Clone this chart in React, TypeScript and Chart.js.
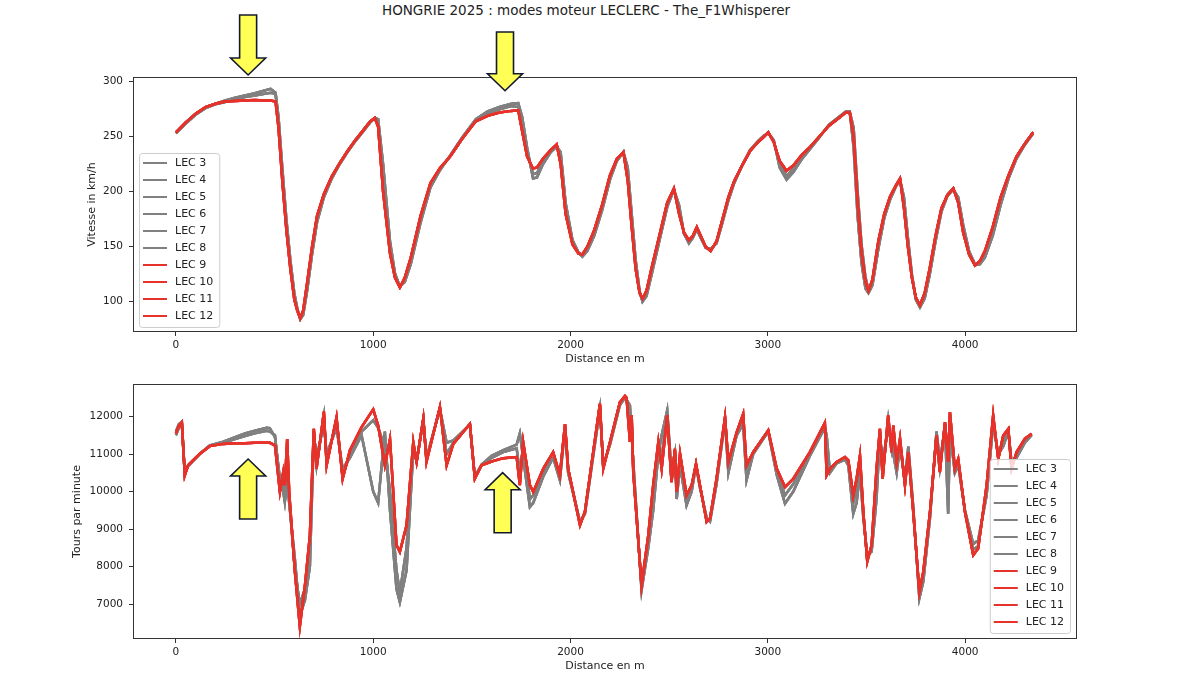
import React, { useEffect, useRef } from "react";
import { Chart, registerables } from "chart.js";

Chart.register(...registerables);

// ---------------- data ----------------
const chartTitle = "HONGRIE 2025 : modes moteur LECLERC - The_F1Whisperer";
const xAxisTitle = "Distance en m";
const speedAxisTitle = "Vitesse in km/h";
const rpmAxisTitle = "Tours par minute";

const seriesLabels = ["LEC 3", "LEC 4", "LEC 5", "LEC 6", "LEC 7", "LEC 8", "LEC 9", "LEC 10", "LEC 11", "LEC 12"];
// which read trace each lap follows (grey laps A/B, red laps R)
const seriesTrace = ["A", "B", "A", "B", "A", "B", "R", "R", "R", "R"];

const xTicks = [0, 1000, 2000, 3000, 4000];
const speedTicks = [100, 150, 200, 250, 300];
const rpmTicks = [7000, 8000, 9000, 10000, 11000, 12000];

const speedDistance = [
  0, 50, 100, 150, 200, 250, 300, 350, 400, 450,
  480, 505, 520, 540, 560, 580, 600, 615, 630, 645,
  665, 690, 715, 750, 790, 830, 870, 910, 950, 985,
  1008, 1025, 1050, 1085, 1110, 1135, 1160, 1190, 1240, 1290,
  1340, 1390, 1450, 1520, 1580, 1640, 1700, 1735, 1755, 1780,
  1810, 1830, 1860, 1900, 1930, 1950, 1975, 2010, 2040, 2060,
  2085, 2120, 2160, 2200, 2235, 2268, 2290, 2310, 2330, 2350,
  2365, 2385, 2410, 2450, 2490, 2524, 2550, 2575, 2600, 2620,
  2640, 2660, 2685, 2710, 2740, 2770, 2800, 2830, 2870, 2910,
  2950, 2980, 3002, 3030, 3060, 3095, 3130, 3170, 3210, 3260,
  3310, 3360, 3395, 3415, 3435, 3455, 3475, 3495, 3510, 3530,
  3560, 3590, 3620, 3650, 3670, 3690, 3710, 3730, 3750, 3771,
  3795, 3820, 3850, 3880, 3910, 3940, 3965, 3990, 4020, 4050,
  4075, 4100, 4140, 4180, 4220, 4260, 4300, 4345,
];

const speedRed = [
  254, 263, 271, 277, 280, 282, 282.5, 283, 283.5, 283,
  283, 282, 258, 208, 165, 130, 102, 92, 85, 92,
  117, 150, 178, 198, 214, 226, 237, 247, 256, 264,
  267, 259, 200, 144, 122, 113, 122, 140, 178, 208,
  222, 232, 248, 264, 269, 272, 273.5, 274, 255, 232,
  221, 222, 230, 238, 243, 225, 180, 152, 144, 143,
  150, 165, 188, 215, 230, 236, 210, 168, 130, 108,
  103, 110, 130, 160, 190, 203, 180, 163, 156, 160,
  168, 160, 150, 146, 155, 175, 195, 210, 224, 237,
  245, 250, 254, 245, 228, 219, 224, 233, 240, 250,
  260, 267, 272, 272, 250, 190, 145, 118, 110, 120,
  155, 180, 196, 206, 212, 185, 150, 122, 104, 97,
  108, 130, 160, 185, 197, 203, 190, 163, 143, 133,
  137, 146, 168, 195, 215, 232, 243, 254,
];

const speedGrayA = [
  254, 263, 271, 277, 280, 283, 285.5, 287.5, 289.5, 292,
  293.5, 290, 268, 220, 175, 138, 108, 94, 84, 88,
  110, 143, 172, 195, 212, 225, 236, 246, 255, 263,
  267, 266, 225, 155, 126, 114, 118, 134, 172, 204,
  220, 233, 249, 266, 273, 277, 280, 280.5, 268, 240,
  212, 213, 225, 236, 241, 236, 190, 156, 145, 141,
  146, 160, 183, 211, 228, 236, 222, 180, 138, 110,
  100, 105, 124, 155, 186, 202, 188, 162, 153, 158,
  166, 158, 149, 148, 153, 172, 192, 208, 224, 238,
  246, 251, 253, 247, 222, 211, 218, 229, 238, 249,
  261, 268, 273, 273, 240, 178, 135, 112, 108, 115,
  148, 176, 193, 205, 211, 195, 158, 125, 102, 95,
  103, 124, 155, 182, 196, 202, 195, 170, 146, 134,
  134, 140, 160, 188, 212, 230, 242, 253,
];

const speedGrayB = [
  253, 262, 270, 276, 279.5, 281.5, 284, 286, 287.5, 289,
  290, 289, 262, 212, 168, 133, 105, 93, 86, 90,
  114, 147, 176, 197, 213, 226, 237, 247, 256, 264,
  267, 262, 210, 148, 123, 113, 120, 137, 175, 206,
  221, 232, 248, 265, 271, 275, 278, 277, 262, 236,
  216, 217, 227, 237, 242, 230, 185, 154, 144, 142,
  148, 163, 186, 213, 229, 236, 215, 173, 133, 108,
  101, 108, 127, 158, 188, 202, 184, 162, 155, 159,
  167, 159, 150, 147, 154, 174, 194, 209, 224, 237,
  245, 250, 254, 246, 225, 214, 221, 231, 239, 250,
  260, 267, 272, 273, 258, 200, 152, 122, 111, 118,
  152, 178, 195, 206, 211, 190, 154, 123, 103, 96,
  106, 127, 158, 184, 197, 203, 192, 166, 144, 133,
  135, 143, 165, 192, 214, 231, 243, 254,
];

const rpmDistance = [
  0, 15, 30, 45, 62, 120, 172, 240, 300, 350,
  400, 460, 476, 502, 527, 544, 552, 564, 574, 603,
  628, 654, 679, 699, 713, 750, 764, 814, 845, 882,
  941, 1000, 1025, 1059, 1085, 1118, 1135, 1169, 1203, 1220,
  1254, 1270, 1338, 1372, 1406, 1490, 1515, 1549, 1600, 1659,
  1727, 1743, 1760, 1794, 1811, 1862, 1912, 1946, 1972, 1988,
  2048, 2073, 2149, 2166, 2200, 2250, 2276, 2284, 2301, 2310,
  2318, 2360, 2394, 2419, 2445, 2462, 2490, 2512, 2529, 2538,
  2555, 2588, 2614, 2636, 2656, 2690, 2707, 2740, 2783, 2800,
  2842, 2875, 2892, 2926, 3002, 3045, 3087, 3129, 3213, 3289,
  3298, 3315, 3349, 3391, 3408, 3433, 3450, 3467, 3484, 3504,
  3526, 3551, 3568, 3582, 3610, 3627, 3636, 3653, 3670, 3695,
  3712, 3737, 3768, 3788, 3822, 3855, 3872, 3898, 3914, 3923,
  3948, 3965, 3999, 4041, 4066, 4109, 4142, 4168, 4193, 4219,
  4235, 4261, 4303, 4337,
];

const rpmRed = [
  11550, 11750, 11850, 10430, 10700, 11000, 11210, 11270, 11285, 11290,
  11300, 11300, 11300, 11230, 9990, 10520, 10170, 11400, 9990, 7860,
  6400, 7500, 8830, 11670, 10610, 12130, 10700, 11980, 10340, 11100,
  11720, 12190, 11760, 10700, 11400, 8570, 8390, 9100, 11320, 10790,
  11940, 10790, 12250, 10700, 11270, 11800, 10340, 10700, 10800, 10890,
  10920, 10170, 11320, 10170, 9990, 10610, 11050, 10430, 11800, 10610,
  9100, 9460, 12340, 10610, 11320, 12380, 12550, 12500, 11320, 12030,
  10520, 7500, 8830, 10170, 11320, 10610, 12030, 10250, 11140, 9990,
  11010, 9900, 10170, 10740, 10170, 9190, 9280, 10340, 11980, 10790,
  11580, 12070, 10700, 11050, 11630, 10610, 10120, 10340, 11050, 11830,
  10430, 10610, 10790, 10920, 10830, 9900, 10340, 10960, 9460, 8130,
  8570, 10610, 11670, 10340, 12030, 11050, 11760, 10790, 11410, 10170,
  11050, 9460, 7330, 7860, 9460, 11490, 10520, 11850, 10790, 12120,
  10610, 10870, 9460, 8300, 8480, 10170, 12030, 10870, 11490, 11670,
  10610, 11050, 11410, 11540,
];

const rpmGrayA = [
  11600, 11800, 11850, 10500, 10680, 11000, 11230, 11330, 11450, 11550,
  11620, 11700, 11690, 11450, 10340, 10000, 9720, 10300, 9700, 8200,
  6700, 7100, 8000, 11500, 10900, 11800, 11000, 11700, 10600, 10900,
  11500, 10000, 9700, 11600, 9500, 7400, 7050, 7900, 11100, 10800,
  11900, 10900, 12200, 11300, 11360, 11780, 10400, 10720, 10950, 11100,
  11250, 11550, 10900, 9590, 9700, 10400, 10900, 10300, 11700, 10500,
  9200, 9400, 12200, 10700, 11250, 12300, 12500, 12450, 12300, 11500,
  10800, 7370, 8500, 9500, 11000, 11500, 12160, 10500, 11000, 9800,
  10700, 9630, 10000, 10700, 10100, 9300, 9200, 10200, 11900, 10500,
  11500, 11800, 10300, 11000, 11600, 10450, 9680, 10000, 10950, 11700,
  11500, 10500, 10750, 10850, 10700, 9410, 9700, 10500, 9300, 8300,
  8400, 9810, 11500, 10800, 11700, 11300, 11000, 10500, 11200, 10300,
  11200, 9600, 7150, 7600, 9300, 11600, 10800, 11700, 9410, 11600,
  10500, 10700, 9500, 8600, 8700, 9900, 11800, 11000, 11200, 11600,
  10800, 10900, 11300, 11500,
];

const rpmGrayB = [
  11500, 11700, 11800, 10450, 10700, 11000, 11220, 11300, 11400, 11480,
  11550, 11620, 11600, 11500, 10200, 10300, 9900, 10600, 9800, 7900,
  7000, 7400, 8600, 11600, 10700, 12000, 10800, 11900, 10400, 11000,
  11600, 11900, 11700, 11200, 10000, 7900, 7300, 8500, 11200, 10800,
  11950, 10850, 12230, 11000, 11300, 11800, 10380, 10700, 10900, 11050,
  11150, 10500, 11200, 9800, 9900, 10500, 11000, 10400, 11750, 10600,
  9150, 9450, 12300, 10650, 11300, 12350, 12520, 12480, 11800, 11900,
  10600, 7450, 8700, 9900, 11200, 10900, 12100, 10300, 11100, 9900,
  10900, 9750, 10100, 10720, 10150, 9250, 9250, 10300, 11950, 10650,
  11550, 11950, 10500, 11050, 11620, 10550, 9900, 10200, 11000, 11780,
  10700, 10580, 10770, 10900, 10800, 9700, 10100, 10800, 9400, 8200,
  8500, 10300, 11600, 10500, 11900, 11150, 11500, 10700, 11300, 10200,
  11100, 9500, 7250, 7750, 9400, 11550, 10650, 11800, 10400, 11900,
  10550, 10800, 9480, 8450, 8550, 10050, 11900, 10900, 11400, 11650,
  10700, 11000, 11380, 11520,
];

// ---------------- styles ----------------
const FONT = '"DejaVu Sans", "Liberation Sans", sans-serif';
const TEXT = "#222222";
const AXIS = "#333333";
const GRAY = "#808080";
const RED = "#e6322a";
const seriesColors = [GRAY, GRAY, GRAY, GRAY, GRAY, GRAY, RED, RED, RED, RED];

const X_MIN = -217.5;
const X_MAX = 4567;

function buildDatasets(dist: number[], traces: Record<string, number[]>) {
  const n = seriesLabels.length;
  return seriesLabels.map((label, i) => {
    const ys = traces[seriesTrace[i]];
    return {
      label,
      data: dist.map((d, k) => ({ x: d, y: ys[k] })),
      borderColor: seriesColors[i],
      backgroundColor: seriesColors[i],
      borderWidth: 2.5,
      pointRadius: 0,
      pointHoverRadius: 0,
      tension: 0,
      fill: false,
      // later laps drawn on top (as in matplotlib plotting order)
      order: n - i,
    };
  });
}

function drawArrow(ctx: CanvasRenderingContext2D, cx: number, tipY: number, tailY: number) {
  const shaftW = 17;
  const headW = 35;
  const headH = 17;
  const dir = tipY > tailY ? 1 : -1;
  const hb = tipY - dir * headH;
  ctx.beginPath();
  ctx.moveTo(cx - shaftW / 2, tailY);
  ctx.lineTo(cx + shaftW / 2, tailY);
  ctx.lineTo(cx + shaftW / 2, hb);
  ctx.lineTo(cx + headW / 2, hb);
  ctx.lineTo(cx, tipY);
  ctx.lineTo(cx - headW / 2, hb);
  ctx.lineTo(cx - shaftW / 2, hb);
  ctx.closePath();
  ctx.fillStyle = "#ffff55";
  ctx.fill();
  ctx.lineWidth = 1.6;
  ctx.strokeStyle = "#141a2e";
  ctx.lineJoin = "miter";
  ctx.stroke();
}

const decorPlugin = {
  id: "decor",
  afterDatasetsDraw(chart: any, _args: any, opts: any) {
    const { ctx, chartArea: a } = chart;
    const xs = chart.scales.x;
    ctx.save();
    // axes frame (all four spines)
    ctx.strokeStyle = AXIS;
    ctx.lineWidth = 1;
    ctx.strokeRect(Math.round(a.left) + 0.5, Math.round(a.top) + 0.5, Math.round(a.right - a.left) - 1, Math.round(a.bottom - a.top) - 1);

    // legend box
    const items = chart.data.datasets.map((ds: any) => ({ label: ds.label, color: ds.borderColor }));
    ctx.font = `11px ${FONT}`;
    const textW = Math.max(...items.map((it: any) => ctx.measureText(it.label).width));
    const rowH = 17;
    const padX = 4;
    const handle = 24;
    const gap = 8;
    const w = padX + handle + gap + textW + 6;
    const h = 10 + (items.length - 1) * rowH + 11;
    const bx = opts.legendSide === "left" ? a.left + 6 : a.right - 7 - w;
    const by = a.bottom - (opts.legendSide === "left" ? 5 : 6) - h;
    ctx.beginPath();
    if ((ctx as any).roundRect) (ctx as any).roundRect(bx + 0.5, by + 0.5, w, h, 3);
    else ctx.rect(bx + 0.5, by + 0.5, w, h);
    ctx.fillStyle = "rgba(255,255,255,0.8)";
    ctx.fill();
    ctx.strokeStyle = "#cccccc";
    ctx.lineWidth = 1;
    ctx.stroke();
    items.forEach((it: any, i: number) => {
      const cy = by + 10 + i * rowH;
      ctx.beginPath();
      ctx.moveTo(bx + padX, cy);
      ctx.lineTo(bx + padX + handle, cy);
      ctx.strokeStyle = it.color;
      ctx.lineWidth = 2;
      ctx.stroke();
      ctx.fillStyle = TEXT;
      ctx.textBaseline = "middle";
      ctx.textAlign = "left";
      ctx.fillText(it.label, bx + padX + handle + gap, cy + 0.5);
    });

    // yellow arrows
    (opts.arrows || []).forEach((ar: any) => {
      drawArrow(ctx, xs.getPixelForValue(ar.at), a.top + ar.tip, a.top + ar.tail);
    });
    ctx.restore();
  },
};

type PanelProps = {
  top: number;
  height: number;
  dist: number[];
  traces: Record<string, number[]>;
  yMin: number;
  yMax: number;
  yTicks: number[];
  yTitle: string;
  padLeft: number;
  padTop: number;
  padBottom: number;
  legendSide: string;
  arrows: { at: number; tip: number; tail: number }[];
};

function Panel(p: PanelProps) {
  const ref = useRef<HTMLCanvasElement>(null);
  useEffect(() => {
    const yAxisWidth = 133 - p.padLeft;
    const chart = new Chart(ref.current as HTMLCanvasElement, {
      type: "line",
      data: { datasets: buildDatasets(p.dist, p.traces) as any },
      options: {
        animation: false,
        responsive: false,
        devicePixelRatio: 1,
        events: [],
        layout: { padding: { left: p.padLeft, top: p.padTop, right: 1200 - 1077, bottom: p.padBottom } },
        scales: {
          x: {
            type: "linear",
            min: X_MIN,
            max: X_MAX,
            afterBuildTicks: (s: any) => {
              s.ticks = xTicks.map((v) => ({ value: v }));
            },
            afterFit: (s: any) => {
              s.height = 38;
            },
            ticks: {
              callback: (v: any) => String(v),
              font: { family: FONT, size: 10.5 },
              color: TEXT,
              padding: 3,
              maxRotation: 0,
              autoSkip: false,
            },
            grid: { display: true, drawOnChartArea: false, drawTicks: true, tickLength: 4, color: AXIS, tickColor: AXIS },
            border: { display: false },
            title: { display: true, text: xAxisTitle, font: { family: FONT, size: 11 }, color: TEXT, padding: { top: 0, bottom: 4 } },
          },
          y: {
            type: "linear",
            min: p.yMin,
            max: p.yMax,
            afterBuildTicks: (s: any) => {
              s.ticks = p.yTicks.map((v) => ({ value: v }));
            },
            afterFit: (s: any) => {
              s.width = yAxisWidth;
            },
            ticks: {
              callback: (v: any) => String(v),
              font: { family: FONT, size: 10.5 },
              color: TEXT,
              padding: 6,
              autoSkip: false,
            },
            grid: { display: true, drawOnChartArea: false, drawTicks: true, tickLength: 4, color: AXIS, tickColor: AXIS },
            border: { display: false },
            title: { display: true, text: p.yTitle, font: { family: FONT, size: 11 }, color: TEXT, padding: { top: 0, bottom: 0 } },
          },
        },
        plugins: {
          legend: { display: false },
          tooltip: { enabled: false },
          title: { display: false },
          decor: { legendSide: p.legendSide, arrows: p.arrows },
        } as any,
      },
      plugins: [decorPlugin],
    });
    return () => chart.destroy();
  }, []);
  return (
    <canvas
      ref={ref}
      width={1200}
      height={p.height}
      style={{ position: "absolute", left: 0, top: p.top, width: 1200, height: p.height }}
    />
  );
}

export default function App() {
  return (
    <div style={{ position: "fixed", left: 0, top: 0, width: 1200, height: 681, background: "#ffffff", overflow: "hidden" }}>
      <div
        style={{
          position: "absolute",
          left: 0,
          top: 2,
          width: 1172,
          textAlign: "center",
          fontFamily: FONT,
          fontSize: 13.5,
          lineHeight: "16px",
          color: TEXT,
          whiteSpace: "nowrap",
        }}
      >
        {chartTitle}
      </div>
      <Panel
        top={0}
        height={370}
        dist={speedDistance}
        traces={{ A: speedGrayA, B: speedGrayB, R: speedRed }}
        yMin={72.5}
        yMax={304.3}
        yTicks={speedTicks}
        yTitle={speedAxisTitle}
        padLeft={86}
        padTop={77}
        padBottom={0}
        legendSide="left"
        arrows={[
          { at: 366, tip: -2, tail: -62 },
          { at: 1668, tip: 13.7, tail: -45 },
        ]}
      />
      <Panel
        top={370}
        height={311}
        dist={rpmDistance}
        traces={{ A: rpmGrayA, B: rpmGrayB, R: rpmRed }}
        yMin={6067}
        yMax={12867}
        yTicks={rpmTicks}
        yTitle={rpmAxisTitle}
        padLeft={71}
        padTop={14}
        padBottom={4}
        legendSide="right"
        arrows={[
          { at: 366, tip: 75, tail: 135 },
          { at: 1656, tip: 88.7, tail: 148.7 },
        ]}
      />
    </div>
  );
}
